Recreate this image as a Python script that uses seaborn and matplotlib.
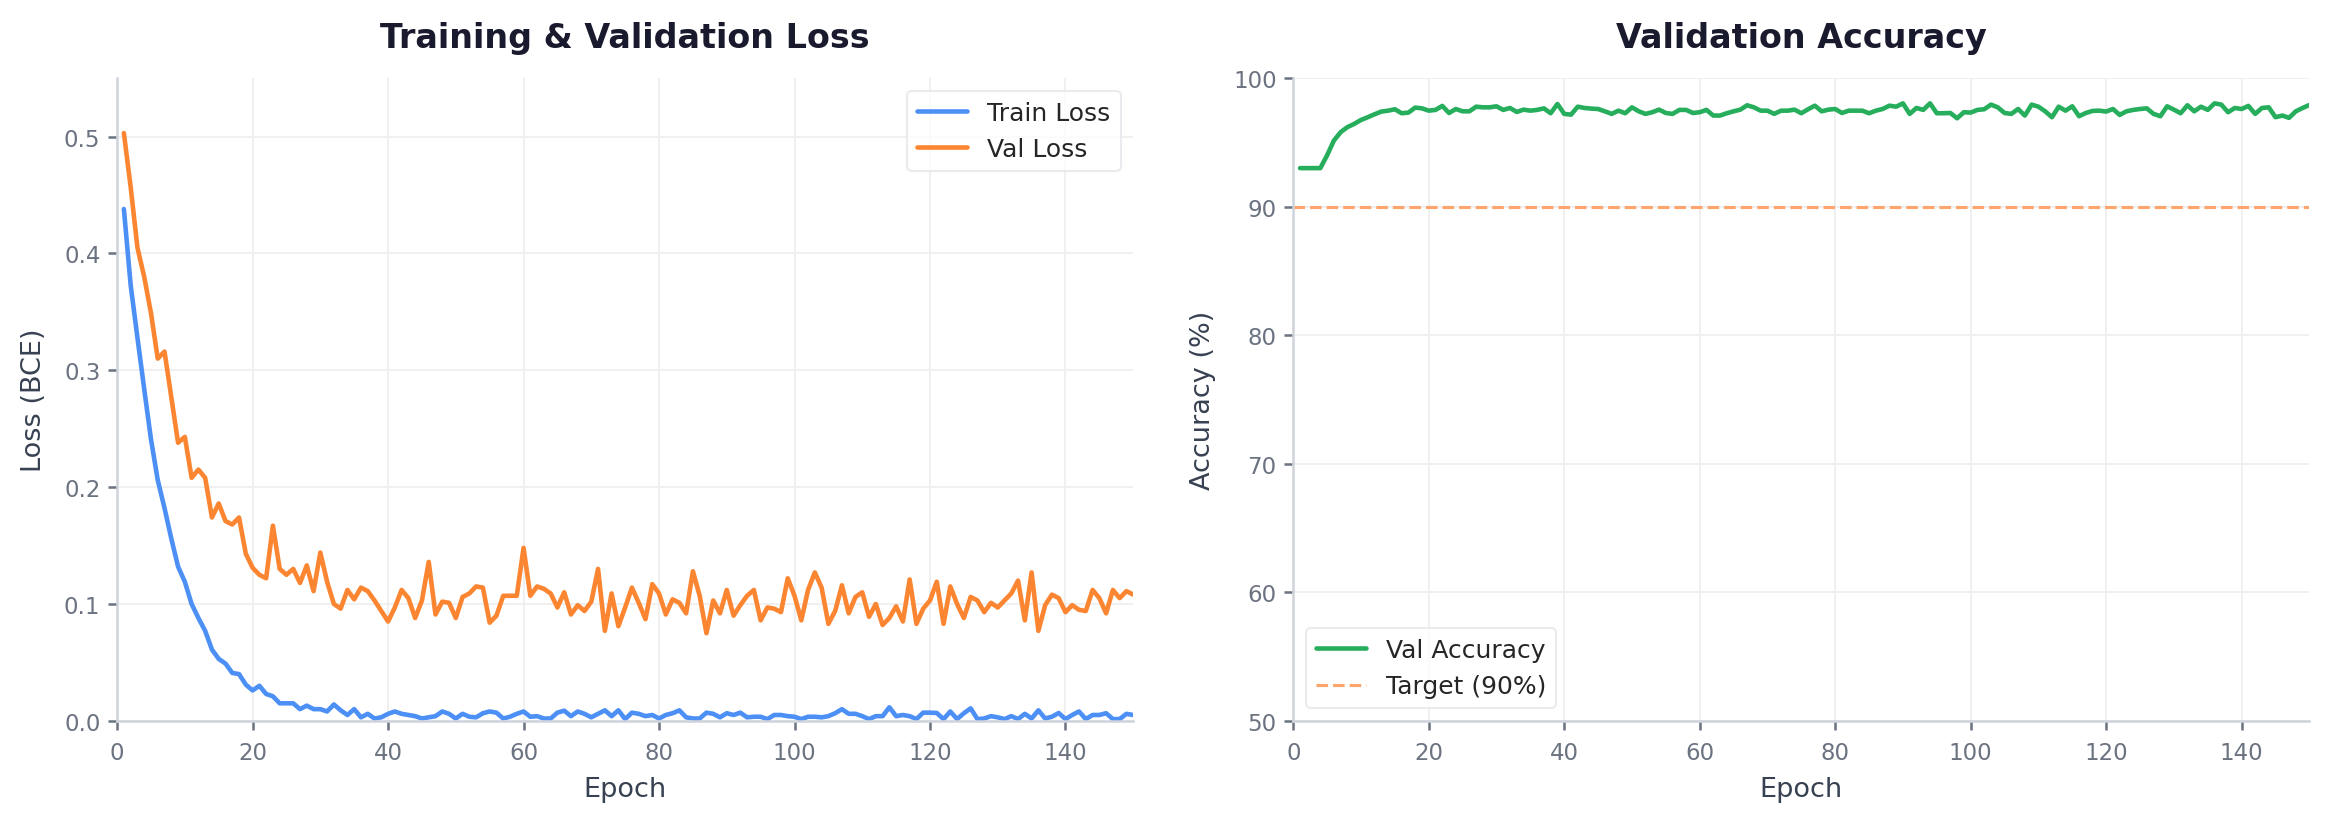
import numpy as np
import pandas as pd
import matplotlib
matplotlib.use("Agg")
import matplotlib.pyplot as plt
import seaborn as sns

# ---------------------------------------------------------
# Data (150 epochs)
# ---------------------------------------------------------
epochs = list(range(1, 151))

train_loss = [
    0.438, 0.373, 0.328, 0.284, 0.241, 0.206, 0.182, 0.156, 0.132, 0.119,
    0.100, 0.088, 0.077, 0.061, 0.053, 0.049, 0.041, 0.040, 0.031, 0.026,
    0.030, 0.023, 0.021, 0.015, 0.015, 0.015, 0.010, 0.013, 0.010, 0.010,
    0.008, 0.014, 0.009, 0.005, 0.010, 0.003, 0.006, 0.002, 0.003, 0.006,
    0.008, 0.006, 0.005, 0.004, 0.002, 0.003, 0.004, 0.008, 0.006, 0.002,
    0.006, 0.0035, 0.003, 0.0065, 0.008, 0.007, 0.002, 0.0035, 0.006, 0.008,
    0.0035, 0.004, 0.002, 0.002, 0.007, 0.0087, 0.004, 0.008, 0.006, 0.003,
    0.006, 0.009, 0.004, 0.009, 0.0015, 0.007, 0.006, 0.004, 0.005, 0.002,
    0.005, 0.0065, 0.009, 0.003, 0.002, 0.002, 0.007, 0.006, 0.003, 0.0065,
    0.005, 0.007, 0.003, 0.0035, 0.0035, 0.0015, 0.005, 0.005, 0.004, 0.0035,
    0.0015, 0.0035, 0.0035, 0.003, 0.004, 0.0065, 0.010, 0.006, 0.006, 0.004,
    0.0015, 0.004, 0.004, 0.0116, 0.004, 0.005, 0.004, 0.0015, 0.007, 0.007,
    0.0067, 0.0015, 0.008, 0.0015, 0.0065, 0.0107, 0.0015, 0.002, 0.004, 0.003,
    0.0015, 0.004, 0.0015, 0.006, 0.002, 0.009, 0.002, 0.0035, 0.0067, 0.0015,
    0.005, 0.008, 0.0015, 0.005, 0.005, 0.0065, 0.0015, 0.0015, 0.006, 0.005,
]

val_loss = [
    0.503, 0.457, 0.405, 0.380, 0.349, 0.310, 0.316, 0.277, 0.238, 0.243,
    0.208, 0.215, 0.208, 0.174, 0.186, 0.171, 0.168, 0.174, 0.143, 0.131,
    0.125, 0.122, 0.167, 0.130, 0.125, 0.130, 0.118, 0.133, 0.111, 0.144,
    0.119, 0.100, 0.096, 0.112, 0.104, 0.114, 0.111, 0.103, 0.094, 0.085,
    0.097, 0.112, 0.105, 0.088, 0.103, 0.136, 0.091, 0.102, 0.101, 0.088,
    0.106, 0.109, 0.115, 0.114, 0.084, 0.090, 0.107, 0.107, 0.107, 0.148,
    0.107, 0.115, 0.113, 0.109, 0.097, 0.110, 0.091, 0.099, 0.094, 0.102,
    0.130, 0.077, 0.109, 0.081, 0.097, 0.114, 0.101, 0.087, 0.117, 0.109,
    0.091, 0.104, 0.101, 0.092, 0.128, 0.107, 0.075, 0.103, 0.092, 0.112,
    0.090, 0.099, 0.107, 0.112, 0.086, 0.097, 0.096, 0.093, 0.122, 0.107,
    0.086, 0.112, 0.127, 0.114, 0.083, 0.094, 0.116, 0.092, 0.106, 0.110,
    0.089, 0.100, 0.082, 0.088, 0.098, 0.085, 0.121, 0.083, 0.096, 0.103,
    0.119, 0.083, 0.115, 0.100, 0.088, 0.106, 0.103, 0.093, 0.101, 0.097,
    0.103, 0.109, 0.120, 0.086, 0.127, 0.077, 0.099, 0.108, 0.105, 0.093,
    0.099, 0.095, 0.094, 0.112, 0.105, 0.092, 0.112, 0.105, 0.111, 0.108,
]

val_acc = [
    93.00, 93.00, 93.00, 93.00, 94.00, 95.15, 95.80, 96.19, 96.44, 96.75,
    96.96, 97.19, 97.40, 97.47, 97.58, 97.27, 97.32, 97.71, 97.65, 97.47,
    97.53, 97.84, 97.29, 97.60, 97.42, 97.42, 97.78, 97.73, 97.73, 97.81,
    97.53, 97.68, 97.37, 97.55, 97.47, 97.53, 97.65, 97.27, 97.99, 97.22,
    97.16, 97.78, 97.68, 97.63, 97.60, 97.42, 97.22, 97.47, 97.27, 97.73,
    97.42, 97.22, 97.35, 97.55, 97.29, 97.22, 97.53, 97.53, 97.29, 97.35,
    97.53, 97.09, 97.09, 97.27, 97.42, 97.55, 97.89, 97.73, 97.47, 97.47,
    97.22, 97.47, 97.47, 97.55, 97.27, 97.58, 97.86, 97.42, 97.55, 97.60,
    97.29, 97.47, 97.47, 97.47, 97.27, 97.47, 97.60, 97.86, 97.78, 98.04,
    97.22, 97.68, 97.53, 98.04, 97.27, 97.27, 97.29, 96.88, 97.35, 97.32,
    97.53, 97.58, 97.94, 97.73, 97.29, 97.22, 97.60, 97.09, 97.94, 97.78,
    97.42, 96.96, 97.78, 97.47, 97.81, 97.04, 97.29, 97.45, 97.47, 97.40,
    97.60, 97.14, 97.42, 97.53, 97.60, 97.65, 97.22, 97.04, 97.81, 97.55,
    97.27, 97.89, 97.42, 97.78, 97.53, 98.04, 97.94, 97.35, 97.68, 97.60,
    97.84, 97.22, 97.68, 97.73, 96.96, 97.09, 96.91, 97.42, 97.68, 97.91,
]

target_acc = 90

df = pd.DataFrame({
    "Epoch": epochs,
    "Train Loss": train_loss,
    "Val Loss": val_loss,
    "Val Accuracy": val_acc,
})

# ---------------------------------------------------------
# Styling
# ---------------------------------------------------------
sns.set_theme(style="whitegrid")
plt.rcParams.update({
    "font.family": ["DejaVu Sans"],
    "axes.edgecolor": "#cfd3dc",
    "axes.linewidth": 1.2,
    "grid.color": "#f0f0f0",
    "grid.linewidth": 0.9,
    "xtick.color": "#6b7280",
    "ytick.color": "#6b7280",
    "xtick.labelsize": 11,
    "ytick.labelsize": 11,
    "axes.labelcolor": "#374151",
    "axes.labelsize": 13,
    "xtick.bottom": True,
    "ytick.left": True,
    "xtick.major.size": 4.5,
    "ytick.major.size": 4.5,
    "xtick.major.width": 1.2,
    "ytick.major.width": 1.2,
    "xtick.major.pad": 5,
})

BLUE = "#4c8ff5"
ORANGE = "#fb8530"
GREEN = "#27ae5c"
TARGET = "#fda56c"
TITLE_COLOR = "#1a1a2e"

fig, (ax1, ax2) = plt.subplots(1, 2, figsize=(15.52, 5.493), dpi=150)
fig.subplots_adjust(left=0.0503, right=0.992, bottom=0.124, top=0.904, wspace=0.1575)

# ---------------------------------------------------------
# 1. Training & validation loss
# ---------------------------------------------------------
sns.lineplot(data=df, x="Epoch", y="Train Loss", ax=ax1, color=BLUE,
             linewidth=2.2, label="Train Loss")
sns.lineplot(data=df, x="Epoch", y="Val Loss", ax=ax1, color=ORANGE,
             linewidth=2.2, label="Val Loss")
ax1.set_title("Training & Validation Loss", fontsize=16, fontweight="bold",
              color=TITLE_COLOR, pad=15)
ax1.set_xlabel("Epoch", labelpad=6)
ax1.set_ylabel("Loss (BCE)", labelpad=8)
ax1.set_xlim(0, 150)
ax1.set_ylim(0, 0.55)
ax1.legend(loc="upper right", fontsize=12, frameon=True, edgecolor="#e5e7eb")

# ---------------------------------------------------------
# 2. Validation accuracy
# ---------------------------------------------------------
sns.lineplot(data=df, x="Epoch", y="Val Accuracy", ax=ax2, color=GREEN,
             linewidth=2.2, label="Val Accuracy")
ax2.axhline(target_acc, color=TARGET, linestyle="--", linewidth=1.5,
            label="Target (90%)")
ax2.set_title("Validation Accuracy", fontsize=16, fontweight="bold",
              color=TITLE_COLOR, pad=15)
ax2.set_xlabel("Epoch", labelpad=6)
ax2.set_ylabel("Accuracy (%)", labelpad=8)
ax2.set_xlim(0, 150)
ax2.set_ylim(50, 100)
ax2.legend(loc="lower left", fontsize=12, frameon=True, edgecolor="#e5e7eb")

for ax in (ax1, ax2):
    sns.despine(ax=ax)
    ax.tick_params(axis="both", color="#6b7280", labelcolor="#6b7280")

plt.savefig("out.png", dpi=150)
plt.close()
